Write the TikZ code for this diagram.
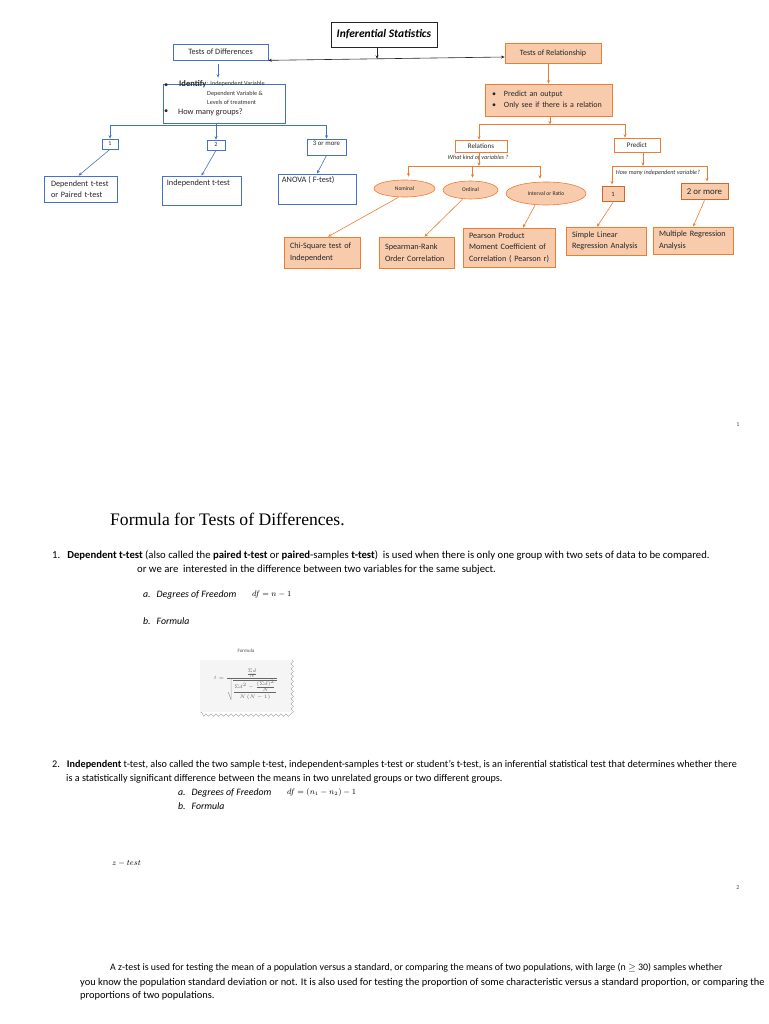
\documentclass[tikz,border=0pt]{standalone}
\usepackage{amsmath}
\usepackage{fontspec}
\setmainfont{Carlito}
\newfontfamily\titlefont{Liberation Serif}
\usetikzlibrary{positioning,arrows.meta,shapes.geometric,calc,decorations.pathmorphing}
\definecolor{wblue}{HTML}{4472C4}
\definecolor{worange}{HTML}{ED7D31}
\definecolor{wpeach}{HTML}{F8CBAD}
\tikzset{
  % --- boxes -----------------------------------------------------------------
  kbox/.style={rectangle,draw=black!85,line width=0.7pt,inner sep=2pt,
               font=\fontsize{11.5}{13}\selectfont},
  bbox/.style={rectangle,draw=wblue,line width=0.7pt,inner sep=2pt,
               font=\fontsize{8.2}{11}\selectfont,text=black!85},
  obox/.style={rectangle,draw=worange,fill=wpeach,line width=0.7pt,inner sep=2pt,
               font=\fontsize{8}{11}\selectfont,text=black!85},
  owbox/.style={obox,fill=white,font=\fontsize{7}{8}\selectfont},
  onum/.style={obox,draw=worange!85!black,line width=1pt},
  oell/.style={ellipse,draw=worange,fill=wpeach,line width=0.6pt,inner sep=0pt,
               font=\fontsize{5.6}{6}\selectfont,text=black!85},
  leaf/.style={obox,inner xsep=6pt,align=left,font=\fontsize{8.2}{11.5}\selectfont},
  % --- texts -----------------------------------------------------------------
  btxt/.style={inner sep=0pt,font=\fontsize{8.3}{10}\selectfont,text=black!85},
  stxt/.style={inner sep=0pt,font=\fontsize{6.2}{7}\selectfont,text=black!80},
  qtxt/.style={inner sep=0pt,font=\itshape\fontsize{6.2}{7}\selectfont,text=black!80},
  body/.style={inner sep=0pt,anchor=west,font=\fontsize{10.7}{12}\selectfont},
  bodyn/.style={body,font=\fontsize{10.2}{12}\selectfont},
  bodyi/.style={body,font=\itshape\fontsize{9.8}{12}\selectfont},
  mathf/.style={body,font=\fontsize{7.8}{9}\selectfont},
  pnum/.style={inner sep=0pt,font=\fontsize{6}{7}\selectfont,text=black!70},
  % --- connectors ------------------------------------------------------------
  barr/.style={-{Stealth[length=3.5pt,width=3pt]},wblue,line width=0.6pt},
  bline/.style={wblue,line width=0.6pt},
  oarr/.style={-{Stealth[length=3.5pt,width=3pt]},worange,line width=0.6pt},
  kone/.style={-{Stealth[length=3.5pt,width=3pt]},black!85,line width=0.6pt},
  kdbl/.style={{Stealth[length=3.5pt,width=3pt]}-{Stealth[length=3.5pt,width=3pt]},
               black!85,line width=0.6pt},
}

\begin{document}
\begin{tikzpicture}[x=1pt,y=-1pt]
  \path[use as bounding box,fill=white] (0,0) rectangle (768,1024);

  % top of the chart
  \node[kbox,minimum width=106pt,minimum height=25pt] (inf) at (384,34.5) {\textbf{\textit{Inferential Statistics}}};
  \node[bbox,minimum width=95pt,minimum height=16pt] (tod) at (220.5,52) {Tests of Differences};
  \node[obox,minimum width=96pt,minimum height=20pt] (tor) at (553,53) {Tests of Relationship};
  \draw[kdbl] (tod.south east) -- ([yshift=-4pt]tor.west) coordinate[pos=0.46] (hub);
  \draw[kone] (inf.south -| hub) -- (hub);

  % tests of differences
  \node[bbox,minimum width=122pt,minimum height=39pt] (idf) at (224,103.5) {};
  \draw[barr] ($(tod.south)+(-2.5,4)$) -- ($(tod.south |- idf.north)+(-2.5,-6)$);
  \node[btxt,anchor=west] (idb1) at (164,86) {\textbullet};
  \node[btxt,anchor=west,font=\bfseries\fontsize{8.5}{10}\selectfont] (idk) at (179,84) {Identify};
  \node[stxt,right=0pt of idk] (idv1) {: Independent Variable};
  \node[stxt,anchor=west] (idv2) at (207,94) {Dependent Variable \&};
  \node[stxt,anchor=west] (idv3) at (207,102) {Levels of treatment};
  \node[btxt,anchor=west] (idb2) at (164,112) {\textbullet};
  \node[btxt,anchor=west] (idq) at (178,112) {How many groups?};

  \node[bbox,minimum width=16pt,minimum height=10pt,inner sep=0pt,font=\fontsize{6}{7}\selectfont] (g1) at (110,144) {1};
  \node[bbox,minimum width=18pt,minimum height=10pt,inner sep=0pt,font=\fontsize{6}{7}\selectfont] (g2) at (216,145) {2};
  \node[bbox,minimum width=39pt,minimum height=16pt] (g3) at (326.5,147) {};
  \node[btxt,font=\fontsize{6.8}{8}\selectfont,below=2.5pt of g3.north] (g3t) {3 or more};
  \coordinate (lj) at (216,125.5);
  \draw[bline] (idf.south -| lj) -- (lj);
  \draw[barr] (lj) -| (g1.north);
  \draw[barr] (lj) -- (g2.north);
  \draw[barr] (lj) -| (g3.north);

  \node[bbox,minimum height=26pt,text width=59pt,inner xsep=7pt,align=left] (dep) at (80.5,189) {Dependent t-test\\or Paired t-test};
  \node[bbox,minimum width=79pt,minimum height=29pt] (ind) at (201.5,190.5) {};
  \node[btxt,below right=4pt and 5pt of ind.north west] (indt) {Independent t-test};
  \node[bbox,minimum width=78pt,minimum height=30pt] (anv) at (317,189) {};
  \node[btxt,below right=3pt and 4pt of anv.north west] (anvt) {ANOVA ( F-test)};
  \draw[barr] (g1.south) -- ([xshift=-2pt]dep.north);
  \draw[barr] (g2.south) -- (ind.north);
  \draw[barr] (g3.south) -- (anv.north);

  % tests of relationship
  \node[obox,minimum width=127pt,minimum height=32pt,text width=113pt,inner xsep=7pt,align=left] (bul) at (548.5,100)
    {\textbullet\hspace{8pt}Predict an output\\\textbullet\hspace{8pt}Only see if there is a relation};
  \draw[oarr] (tor.south -| bul.south) -- (bul.north);
  \node[owbox,minimum width=52pt,minimum height=12pt] (rel) at (481,146) {Relations};
  \node[owbox,minimum width=46pt,minimum height=14pt] (prd) at (637,145) {Predict};
  \coordinate (rj) at (550,124.5);
  \draw[oarr] (bul.south -| rj) -- (rj);
  \draw[oarr] (rj) -| ([xshift=-2pt]rel.north);
  \draw[oarr] (rj) -| ([xshift=-12pt]prd.north);

  \node[qtxt] (relq) at (478,158) {What kind of variables ?};
  \node[oell,minimum width=61pt,minimum height=17pt] (nom) at (404.5,188.5) {Nominal};
  \node[oell,minimum width=55pt,minimum height=18pt] (ord) at (470.5,190) {Ordinal};
  \node[oell,minimum width=80pt,minimum height=23pt] (itv) at (546,193.5) {Interval or Ratio};
  \coordinate (vj) at (479,166);
  \draw[oarr] (rel.south -| vj) -- (vj);
  \draw[oarr,shorten >=3pt] (vj) -| ([xshift=4pt]nom.north);
  \draw[oarr,shorten >=3pt] (vj) -| ([xshift=2pt]ord.north);
  \draw[oarr,shorten >=3pt] (vj) -| ([xshift=-6pt]itv.north);

  \node[qtxt] (prdq) at (658,173) {How many independent variable?};
  \node[onum,minimum width=22pt,minimum height=15pt,inner sep=0pt,font=\fontsize{6.5}{7}\selectfont] (one) at (613,194.5) {1};
  \node[onum,minimum width=47pt,minimum height=16pt,inner sep=0pt,font=\fontsize{8.8}{9}\selectfont] (two) at (704.5,192) {2 or more};
  \coordinate (pj) at (643,166);
  \draw[oarr] (prd.south -| pj) -- (pj);
  \draw[oarr,shorten >=2pt] (pj) -| ([xshift=-1pt]one.north);
  \draw[oarr,shorten >=2pt] (pj) -| ([xshift=2.5pt]two.north);

  \node[leaf,minimum height=31pt,text width=64pt] (chi) at (322,252.5) {Chi-Square test of\\Independent};
  \node[leaf,minimum height=31pt,text width=63pt] (spe) at (416.5,252.5) {Spearman-Rank\\Order Correlation};
  \node[leaf,minimum height=39pt,text width=80pt] (pea) at (509,247.5) {Pearson Product\\Moment Coefficient of\\Correlation ( Pearson r)};
  \node[leaf,minimum height=28pt,text width=68pt] (sim) at (606,241) {Simple Linear\\Regression Analysis};
  \node[leaf,minimum height=27pt,text width=68pt] (mul) at (693,240.5) {Multiple Regression\\Analysis};
  \draw[oarr] ([xshift=-6pt]nom.south) -- ([xshift=6pt]chi.north);
  \draw[oarr] ([xshift=-8pt]ord.south) -- ([xshift=8pt]spe.north);
  \draw[oarr] ([xshift=-11pt]itv.south) -- ([xshift=14pt]pea.north);
  \draw[oarr] (one.south) -- ([xshift=-9pt]sim.north);
  \draw[oarr] (two.south) -- (mul.north);

  \node[pnum] (pg1) at (738,425) {1};

  % formula page
  \node[anchor=west,inner sep=0pt,font=\titlefont\fontsize{17.6}{19}\selectfont] (ttl) at (110,519) {Formula for Tests of Differences.};
  \node[body] (l1) at (52,556) {1.\hspace{7pt}\textbf{Dependent t-test} (also called the \textbf{paired t-test} or \textbf{paired}-samples \textbf{t-test})\ \ is used when there is only one group with two sets of data to be compared.};
  \node[body] (l2) at (137,570) {or we are\ \ interested in the difference between two variables for the same subject.};
  \node[bodyi] (d1a) at (143,595) {a.\hspace{6pt}Degrees of Freedom};
  \node[mathf] (d1f) at (252,594) {$df=n-1$};
  \node[bodyi] (d1b) at (143,621) {b.\hspace{6pt}Formula};

  \node[fill=black!4,minimum width=92pt,minimum height=52pt,inner sep=0pt] (fbg) at (246,686) {};
  \draw[black!40,decorate,decoration={snake,amplitude=1.2pt,segment length=5pt}]
    (fbg.north east) -- (fbg.south east) -- (fbg.south west);
  \node[inner sep=0pt,font=\fontsize{5}{6}\selectfont,text=black!70] (flab) at (246,651) {Formula};
  \node[inner sep=0pt,font=\fontsize{5}{6}\selectfont,text=black!60] (fml) at (246,685)
    {$t=\dfrac{\frac{\Sigma d}{N}}{\sqrt{\dfrac{\Sigma d^2-\frac{(\Sigma d)^2}{N}}{N\,(N-1)}}}$};

  \node[bodyn] (l3) at (52,765) {2.\hspace{7pt}\textbf{Independent} t-test, also called the two sample t-test, independent-samples t-test or student’s t-test, is an inferential statistical test that determines whether there};
  \node[bodyn] (l4) at (66,779) {is a statistically significant difference between the means in two unrelated groups or two different groups.};
  \node[bodyi] (d2a) at (178,793) {a.\hspace{6pt}Degrees of Freedom};
  \node[mathf] (d2f) at (287,792) {$df=(n_1-n_2)-1$};
  \node[bodyi] (d2b) at (178,806) {b.\hspace{6pt}Formula};
  \node[mathf] (zt) at (112,863) {$z-test$};
  \node[pnum] (pg2) at (738,888) {2};

  \node[bodyn,font=\fontsize{9.9}{12}\selectfont] (p1) at (110,968) {A z-test is used for testing the mean of a population versus a standard, or comparing the means of two populations, with large (n $\geq$ 30) samples whether};
  \node[bodyn,font=\fontsize{10.4}{12}\selectfont] (p2) at (80,983) {you know the population standard deviation or not. It is also used for testing the proportion of some characteristic versus a standard proportion, or comparing the};
  \node[bodyn,font=\fontsize{10.4}{12}\selectfont] (p3) at (80,996) {proportions of two populations.};
\end{tikzpicture}
\end{document}
